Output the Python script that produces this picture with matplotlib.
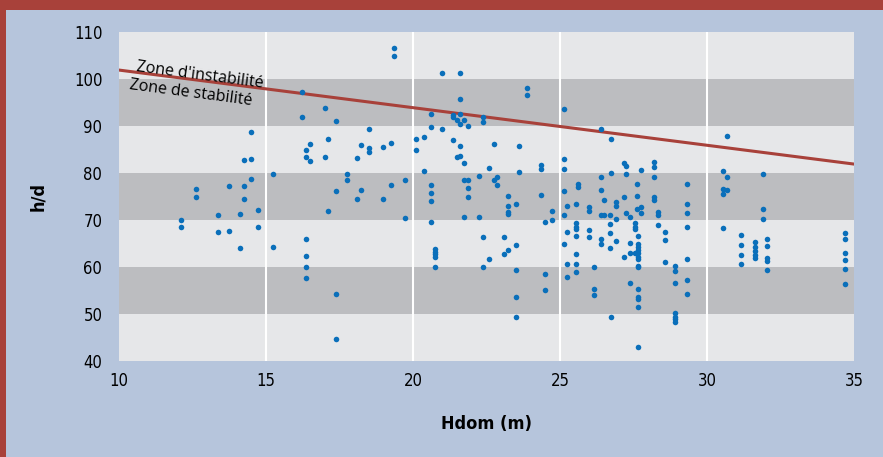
import matplotlib
matplotlib.use("Agg")
import matplotlib.pyplot as plt
from matplotlib.patches import Rectangle

# columns of points: Hdom value -> list of h/d values
hdom_cols = [12.11, 12.61, 13.36, 13.75, 14.1, 14.25, 14.5, 14.74, 15.24,
             16.24, 16.37, 16.5, 17.0, 17.1, 17.38, 17.74, 18.1, 18.24,
             18.49, 18.99, 19.24, 19.37, 19.74, 20.1, 20.37, 20.6, 20.75,
             21.0, 21.36, 21.5, 21.6, 21.75, 21.87, 22.25, 22.37, 22.6,
             22.74, 22.87, 23.1, 23.24, 23.49, 23.62, 23.87, 24.37, 24.5,
             24.74, 25.12, 25.24, 25.56, 25.62, 25.99, 26.16, 26.41, 26.49,
             26.69, 26.74, 26.9, 27.17, 27.24, 27.37, 27.56, 27.61, 27.64,
             27.74, 28.19, 28.34, 28.58, 28.92, 29.33, 30.55, 30.67, 31.17,
             31.64, 31.92, 32.04, 34.71]
hd_cols = [
    [69.9, 68.6], [76.7, 74.8], [71.1, 67.5], [77.2, 67.7], [71.3, 64.1],
    [82.7, 77.2, 74.5], [88.7, 82.9, 78.7], [72.1, 68.6], [79.7, 64.3],
    [97.2, 91.9], [85.0, 83.5, 66.0, 62.4, 60.1, 57.7], [86.1, 82.5],
    [93.8, 83.5], [87.2, 71.85], [91.0, 76.2, 54.3, 44.7], [79.7, 78.6],
    [83.1, 74.4], [85.9, 76.4], [89.3, 85.3, 84.4], [85.5, 74.5],
    [86.3, 77.5], [106.5, 105.0], [78.6, 70.4], [87.2, 84.8], [87.7, 80.5],
    [92.6, 89.7, 77.5, 75.8, 74.1, 69.6], [63.8, 63.2, 62.7, 62.2, 60.1],
    [101.2, 89.3], [92.3, 91.9, 87.0], [91.2, 83.4],
    [101.2, 95.8, 92.6, 90.5, 85.8, 83.55], [91.2, 82.2, 78.6, 70.6],
    [89.9, 78.6, 76.9, 75.0], [79.4, 70.7], [91.85, 90.8, 66.4, 59.9],
    [81.1, 61.8], [86.1, 78.6], [79.2, 77.5], [66.4, 62.8],
    [75.2, 73.0, 71.6, 71.2, 63.7], [73.3, 64.7, 59.4, 53.7, 49.4],
    [85.7, 80.3], [98.15, 96.65], [81.8, 80.9, 75.4], [69.6, 58.6, 55.2],
    [72.0, 69.9], [93.6, 82.9, 80.9, 76.2, 71.1, 65.0],
    [73.0, 67.5, 60.7, 57.9],
    [73.5, 69.3, 68.6, 68.0, 66.7, 62.8, 60.7, 59.0], [77.7, 77.1],
    [72.8, 72.0, 67.9, 66.4], [60.1, 55.4, 54.1],
    [89.4, 79.2, 76.45, 71.1, 65.9, 65.0], [74.3, 71.1],
    [71.1, 69.2, 67.3, 64.1], [87.3, 80.1, 49.3], [73.8, 73.0, 70.3, 65.6],
    [82.1, 75.0, 62.2], [81.55, 79.85, 71.4], [70.7, 65.2, 62.9, 56.7],
    [69.4, 68.6, 68.0, 62.9], [77.7, 75.2, 72.3],
    [66.7, 65.0, 64.3, 63.6, 62.9, 62.2, 61.6, 60.2, 59.9, 55.3, 53.7,
     53.1, 51.55, 43.0],
    [80.6, 72.8, 71.55], [82.3, 81.35, 79.2, 75.0, 74.3], [71.6, 71.1, 69.0],
    [67.5, 65.8, 61.1], [60.3, 59.2, 56.7, 50.3, 49.4, 48.9, 48.3],
    [77.7, 73.5, 71.55, 68.6, 61.6, 57.3, 54.3], [80.5, 76.7, 75.6, 68.4],
    [87.9, 79.2, 76.45], [66.8, 64.75, 62.6, 60.7],
    [65.4, 64.3, 63.3, 62.6, 62.0], [79.7, 72.4, 70.3],
    [66.0, 64.5, 62.0, 61.3, 59.4], [67.3, 66.0, 63.0, 61.55, 59.6, 56.45],
]

# stability limit line
limit_x = [10, 35]
limit_y = [101.9, 81.9]

x_ticks = [10, 15, 20, 25, 30, 35]
y_ticks = [40, 50, 60, 70, 80, 90, 100, 110]

hdom = []
hd = []
for xv, ys in zip(hdom_cols, hd_cols):
    for yv in ys:
        hdom.append(xv)
        hd.append(yv)

bg = "#b6c5dc"
red = "#a8413a"
light = "#e6e7e9"
dark = "#bcbdc0"
dot = "#0a6fba"
narrow = dict(family="DejaVu Sans", stretch="condensed")

fig = plt.figure(figsize=(8.83, 4.57), dpi=100)
fig.patch.set_facecolor(bg)
# red frame: top band and left strip
fig.add_artist(Rectangle((0, 1 - 10 / 457), 1, 10 / 457, transform=fig.transFigure,
                         facecolor=red, edgecolor="none"))
fig.add_artist(Rectangle((0, 0), 6 / 883, 1, transform=fig.transFigure,
                         facecolor=red, edgecolor="none"))

ax = fig.add_axes([119 / 883, 1 - 361 / 457, 735 / 883, 329 / 457])
ax.set_facecolor(light)
for lo in range(50, 110, 20):
    ax.axhspan(lo, lo + 10, color=dark, lw=0, zorder=0)
for xv in x_ticks[1:-1]:
    ax.axvline(xv, color="white", lw=1.5, zorder=1)

ax.plot(limit_x, limit_y, color=red, lw=2.2, zorder=2)
ax.scatter(hdom, hd, s=16, color=dot, lw=0, zorder=3)

ax.text(10.55, 100.9, "Zone d'instabilité", rotation=-7.5, fontsize=11.5,
        family="Open Sans", ha="left", va="bottom", rotation_mode="anchor")
ax.text(10.4, 100.4, "Zone de stabilité", rotation=-7.5, fontsize=11.5,
        family="Open Sans", ha="left", va="top", rotation_mode="anchor")

ax.set_xlim(10, 35)
ax.set_ylim(40, 110)
ax.set_xticks(x_ticks)
ax.set_yticks(y_ticks)
ax.tick_params(length=0, labelsize=12, pad=8)
ax.tick_params(axis="y", pad=12)
for lab in ax.get_xticklabels() + ax.get_yticklabels():
    lab.set_family(narrow["family"])
    lab.set_stretch(narrow["stretch"])
for s in ax.spines.values():
    s.set_visible(False)

ax.set_xlabel("Hdom (m)", fontsize=13, fontweight="bold", labelpad=18, **narrow)
ax.set_ylabel("h/d", fontsize=13, fontweight="bold", labelpad=19, **narrow)

fig.savefig("out.png", dpi=100, facecolor=bg)
